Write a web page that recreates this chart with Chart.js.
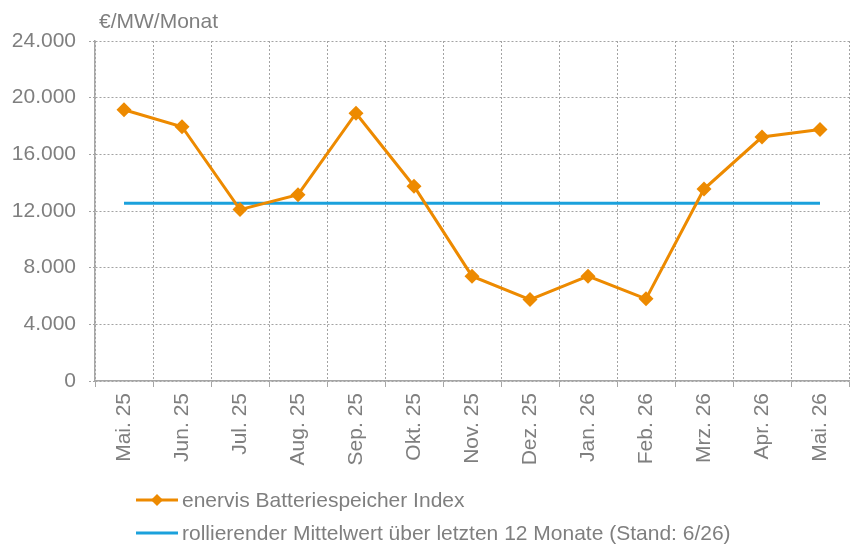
<!DOCTYPE html>
<html>
<head>
<meta charset="utf-8">
<script src="https://cdn.jsdelivr.net/npm/chart.js@4/dist/chart.umd.min.js"></script>
<style>
  html, body { margin: 0; padding: 0; background: #fff; }
  #wrap { position: relative; width: 863px; height: 551px; font-family: "Liberation Sans", Arial, sans-serif; color: #7F7F7F; }
  #chart { position: absolute; left: 0; top: 0; }
  .unit { position: absolute; left: 99px; top: 8px; font-size: 21px; line-height: 26px; }
  .leg { position: absolute; left: 136px; font-size: 21px; line-height: 26px; display: flex; align-items: center; white-space: nowrap; }
  .leg svg { margin-right: 4px; }
</style>
</head>
<body>
<div id="wrap">
  <canvas id="chart" width="863" height="551"></canvas>
  <div class="unit">€/MW/Monat</div>
  <div class="leg" style="top:487px;">
    <svg width="42" height="16"><line x1="0" y1="8" x2="42" y2="8" stroke="#ED8A00" stroke-width="3"/><polygon points="21,2 27,8 21,14 15,8" fill="#ED8A00"/></svg>enervis Batteriespeicher Index
  </div>
  <div class="leg" style="top:520px;">
    <svg width="42" height="16"><line x1="0" y1="8" x2="42" y2="8" stroke="#1BA1DC" stroke-width="3"/></svg>rollierender Mittelwert über letzten 12 Monate (Stand: 6/26)
  </div>
</div>
<script>
const categories = ['Mai. 25','Jun. 25','Jul. 25','Aug. 25','Sep. 25','Okt. 25','Nov. 25','Dez. 25','Jan. 26','Feb. 26','Mrz. 26','Apr. 26','Mai. 26'];
const indexValues = [19150, 17950, 12100, 13150, 18900, 13750, 7400, 5750, 7400, 5800, 13550, 17220, 17760];
const rollingMean = [12550, 12550, 12550, 12550, 12550, 12550, 12550, 12550, 12550, 12550, 12550, 12550, 12550];
const yTicks = [0, 4000, 8000, 12000, 16000, 20000, 24000];
const seriesNames = ['enervis Batteriespeicher Index', 'rollierender Mittelwert über letzten 12 Monate (Stand: 6/26)'];

const gray = '#7F7F7F';
const gridGray = '#A3A3A3';
const axisGray = '#A6A6A6';
const font = { family: '"Liberation Sans", Arial, sans-serif', size: 21 };

new Chart(document.getElementById('chart'), {
  type: 'line',
  data: {
    labels: categories,
    datasets: [
      {
        label: seriesNames[1],
        data: rollingMean,
        borderColor: '#1BA1DC',
        borderWidth: 3,
        pointRadius: 0,
        tension: 0,
        order: 2
      },
      {
        label: seriesNames[0],
        data: indexValues,
        borderColor: '#ED8A00',
        backgroundColor: '#ED8A00',
        borderWidth: 3,
        pointStyle: 'rectRot',
        pointRadius: 7.5,
        pointBorderWidth: 0,
        tension: 0,
        order: 1
      }
    ]
  },
  options: {
    responsive: false,
    animation: false,
    layout: { padding: { left: 0, right: 14, top: 41, bottom: 80 } },
    plugins: { legend: { display: false }, tooltip: { enabled: false } },
    scales: {
      x: {
        offset: true,
        grid: { offset: true, color: gridGray, lineWidth: 1, tickLength: 6, tickColor: axisGray, tickBorderDash: [], drawTicks: true },
        border: { display: true, color: axisGray, width: 1.5, dash: [2, 2] },
        ticks: { color: gray, font: font, maxRotation: 90, minRotation: 90, padding: 6, autoSkip: false },
        afterFit: (s) => { s.height = 90; }
      },
      y: {
        min: 0, max: 24000,
        afterBuildTicks: (s) => { s.ticks = yTicks.map(v => ({ value: v })); },
        grid: { color: gridGray, lineWidth: 1, tickLength: 6, tickColor: gridGray, tickBorderDash: [2, 2] },
        border: { display: true, color: axisGray, width: 1.5, dash: [2, 2] },
        ticks: {
          color: gray, font: font, padding: 13,
          callback: (v) => v.toLocaleString('de-DE')
        },
        afterFit: (s) => { s.width = 95; }
      }
    }
  }
});
</script>
</body>
</html>
